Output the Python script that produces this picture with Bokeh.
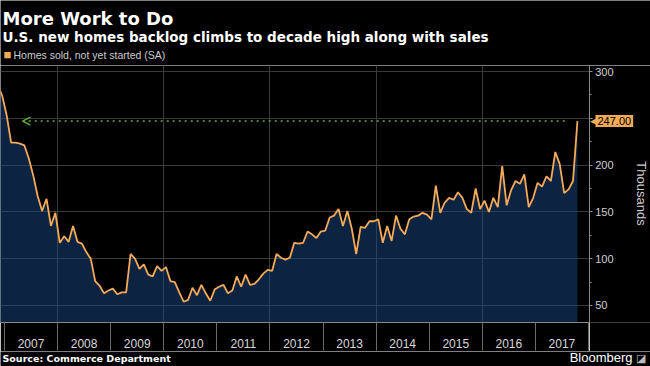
from bokeh.plotting import figure
from bokeh.layouts import column, row
from bokeh.models import Range1d, FixedTicker, Label, Arrow, OpenHead, Grid
from bokeh.embed import file_html
from bokeh.resources import INLINE

# ---- text ----
title = "More Work to Do"
subtitle = "U.S. new homes backlog climbs to decade high along with sales"
series_name = "Homes sold, not yet started (SA)"
source = "Source: Commerce Department"
brand = "Bloomberg"
unit_label = "Thousands"

# ---- data (monthly, thousands, SA), first month Nov 2006 ----
first_year = 2006
first_month = 11
values = [
    285, 274, 253, 224, 224, 223, 221, 207, 189, 167,
    151, 164, 135, 149, 117, 124, 118, 135, 118, 116,
    107, 100, 76, 71, 63, 66, 68, 62, 64, 64,
    105, 100, 89, 94, 83, 81, 92, 87, 91, 76,
    75, 64, 54, 56, 69, 61, 72, 63, 55, 67,
    70, 72, 63, 66, 81, 70, 83, 72, 73, 78,
    84, 88, 87, 105, 101, 99, 101, 117, 116, 117,
    129, 126, 122, 129, 130, 144, 146, 153, 135, 151,
    132, 105, 134, 133, 140, 140, 142, 117, 135, 119,
    146, 132, 126, 142, 145, 146, 149, 147, 142, 178,
    149, 160, 165, 163, 171, 165, 153, 149, 175, 153,
    162, 150, 165, 155, 199, 157, 173, 183, 180, 190,
    155, 165, 181, 177, 188, 183, 214, 201, 170, 174,
    183, 247,
]
years = list(range(2007, 2018))
year_bounds = list(range(2007, 2019))
grid_years = [2008, 2010, 2012, 2014, 2016]
y_ticks = [50, 100, 150, 200, 250, 300]
y_minor = [75, 125, 175, 225, 275]

# mid-month positions in decimal years
x = [first_year + (first_month - 1 + i + 0.5) / 12 for i in range(len(values))]

ORANGE = "#f5aa58"
FILL = "#174681"
GREEN = "#5fae3e"
FONT = "Liberation Sans"
HFONT = "DejaVu Sans"
W = 650
HEAD_H, MAIN_H, FOOT_H = 65, 286, 15
MAIN_W, SIDE_W = 589, 61
AXIS_H = 29

yr = Range1d(31.8, 306.4)


def text_panel(height):
    f = figure(width=W, height=height, x_range=Range1d(0, W), y_range=Range1d(0, height),
               x_axis_location=None, y_axis_location=None, title=None,
               output_backend="svg", toolbar_location=None, min_border=0,
               background_fill_color="black", border_fill_color="black",
               outline_line_color=None)
    f.grid.visible = False
    return f


def lab(f, text, x, y, size, color="white", style="normal", align="left",
        baseline="middle", font=FONT):
    f.add_layout(Label(text=text, x=x, y=y, text_font=font, text_font_size=size,
                       text_font_style=style, text_color=color,
                       text_align=align, text_baseline=baseline))


# ---- header ----
header = text_panel(HEAD_H)
lab(header, title, 2, 47, "18px", style="bold", baseline="alphabetic", font=HFONT)
lab(header, subtitle, 2, 29, "13.5px", style="bold", baseline="alphabetic", font=HFONT)
lab(header, "\u25A0", 3, 11, "13px", color=ORANGE)
lab(header, series_name, 13, 11, "10.5px", color="#cccccc")

# ---- main chart ----
p = figure(
    width=MAIN_W, height=MAIN_H, title=None,
    x_range=Range1d(2006.925, 2018.019), y_range=yr,
    y_axis_location=None,
    output_backend="svg", toolbar_location=None,
    min_border_left=0, min_border_right=0, min_border_top=0, min_border_bottom=AXIS_H,
    background_fill_color="black", border_fill_color="black",
    outline_line_color=None,
)

p.varea(x=x, y1=0, y2=values, fill_color=FILL, fill_alpha=0.5)
p.line(x=x, y=values, line_color=ORANGE, line_width=1.8)

if len(p.ygrid) == 0:
    p.add_layout(Grid(dimension=1))
p.xgrid.ticker = FixedTicker(ticks=grid_years)
p.ygrid.ticker = FixedTicker(ticks=y_ticks)
for g in (p.xgrid, p.ygrid):
    g.grid_line_color = "#3a3a3a"
    g.grid_line_width = 1

xa = p.xaxis[0]
xa.ticker = FixedTicker(ticks=[y + 0.5 for y in years], minor_ticks=year_bounds)
xa.major_label_overrides = {y + 0.5: str(y) for y in years}
xa.major_tick_out = 0
xa.major_tick_in = 0
xa.minor_tick_in = 0
xa.minor_tick_out = 28
xa.minor_tick_line_color = "#6a6a6a"
xa.axis_line_color = "#8a8a8a"
xa.major_label_text_color = "#d8d8d8"
xa.major_label_text_font = FONT
xa.major_label_text_font_size = "12px"
xa.major_label_standoff = -12

last_val = values[-1]
p.add_layout(Arrow(
    end=OpenHead(size=8, line_color=GREEN, line_width=1.5),
    x_start=x[-1] - 0.24, y_start=last_val, x_end=2007.34, y_end=last_val,
    line_color=GREEN, line_width=1.5, line_dash="dotted",
))

# ---- right-hand value axis strip (shares the y range) ----
side = figure(
    width=SIDE_W, height=MAIN_H, title=None,
    x_range=Range1d(0, SIDE_W), y_range=yr,
    x_axis_location=None, y_axis_location="left",
    output_backend="svg", toolbar_location=None,
    min_border_left=0, min_border_right=0, min_border_top=0, min_border_bottom=AXIS_H,
    background_fill_color="black", border_fill_color="black",
    outline_line_color=None,
)
side.grid.visible = False
ya = side.yaxis[0]
ya.ticker = FixedTicker(ticks=y_ticks, minor_ticks=y_minor)
ya.major_label_overrides = {250: "", 50: "50\u2007"}
ya.major_tick_out = 0
ya.major_tick_in = 3
ya.minor_tick_out = 0
ya.minor_tick_in = 2
ya.major_tick_line_color = "#8a8a8a"
ya.minor_tick_line_color = "#8a8a8a"
ya.axis_line_color = "#8a8a8a"
ya.major_label_text_color = "#d0d0d0"
ya.major_label_text_font = FONT
ya.major_label_text_font_size = "11px"
ya.major_label_text_align = "right"
ya.major_label_standoff = -24

side.add_layout(Label(
    text="\u25C0", x=0, y=last_val, y_units="data",
    text_font=FONT, text_font_size="9px", text_color=ORANGE,
    text_align="left", text_baseline="middle"))
side.add_layout(Label(
    text=f"{last_val:.2f}", x=6, y=last_val, y_units="data",
    text_font=FONT, text_font_size="11px", text_color="black",
    text_align="left", text_baseline="middle",
    background_fill_color=ORANGE, padding=2))
side.add_layout(Label(
    text=unit_label, x=52, y=129, x_units="screen", y_units="screen",
    text_font=FONT, text_font_size="13px", text_color="#cccccc",
    text_align="center", text_baseline="middle", angle=-90, angle_units="deg"))

# ---- footer ----
footer = text_panel(FOOT_H)
lab(footer, source, 2, 8, "9.5px", style="bold", font=HFONT)
lab(footer, brand, 632, 9, "13px", align="right")
lab(footer, "\u25EA", 635, 9, "11px", color="#bbbbbb")

layout = column(header, row(p, side, spacing=0), footer, spacing=0)
html = file_html(layout, INLINE)
html = html.replace("<body>", '<body style="background-color:#000000;">', 1)
open("out.html", "w").write(html)
